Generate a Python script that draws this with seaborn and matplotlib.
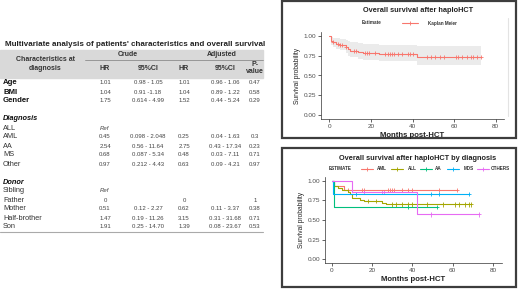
import numpy as np
import pandas as pd
import matplotlib
matplotlib.use("Agg")
import matplotlib.pyplot as plt
import seaborn as sns
from matplotlib.patches import Rectangle
from matplotlib.lines import Line2D

# TABLE DATA
row_labels = ['Age', 'BMI', 'Gender', '', 'Diagnosis', 'ALL', 'AML', 'AA', 'MS', 'Other',
              '', 'Donor', 'Sibling', 'Father', 'Mother', 'Half-brother', 'Son']
crude_hr = ['1.01', '1.04', '1.75', '', '', 'Ref', '0.45', '2.54', '0.68', '0.97',
            '', '', 'Ref', '0', '0.51', '1.47', '1.91']
crude_ci = ['0.98 - 1.05', '0.91 -1.18', '0.614 - 4.99', '', '', '', '0.098 - 2.048',
            '0.56 - 11.64', '0.087 - 5.34', '0.212 - 4.43', '', '', '', '',
            '0.12 - 2.27', '0.19 - 11.26', '0.25 - 14.70']
adj_hr = ['1.01', '1.04', '1.52', '', '', '', '0.25', '2.75', '0.48', '0.63',
          '', '', '', '0', '0.62', '3.15', '1.39']
adj_ci = ['0.96 - 1.06', '0.89 - 1.22', '0.44 - 5.24', '', '', '', '0.04 - 1.63',
          '0.43 - 17.34', '0.03 - 7.11', '0.09 - 4.21', '', '', '', '',
          '0.11 - 3.37', '0.31 - 31.68', '0.08 - 23.67']
p_value = ['0.47', '0.58', '0.29', '', '', '', '0.3', '0.23', '0.71', '0.97',
           '', '', '', '1', '0.38', '0.71', '0.53']
row_kind = ['var', 'var', 'var', '', 'sec', 'lvl', 'lvl', 'lvl', 'lvl', 'lvl',
            '', 'sec', 'lvl', 'lvl', 'lvl', 'lvl', 'lvl']

# OVERALL KM
km_time = [0, 1, 2, 3, 5, 8, 9, 10, 14, 16, 24, 42, 73]
km_surv = [1.0, 0.94, 0.92, 0.90, 0.89, 0.86, 0.83, 0.81, 0.80, 0.79, 0.77, 0.73, 0.73]
km_upper = [1.0, 0.99, 0.98, 0.97, 0.96, 0.95, 0.93, 0.92, 0.91, 0.90, 0.88, 0.87, 0.87]
km_lower = [1.0, 0.88, 0.86, 0.83, 0.82, 0.78, 0.75, 0.73, 0.71, 0.70, 0.68, 0.63, 0.63]
km_censor = [2, 4, 5, 6, 8, 12, 13, 17, 18, 19, 22, 27, 28, 29, 30, 31, 33, 35, 38, 39,
             40, 47, 49, 51, 53, 55, 61, 62, 64, 66, 68, 69, 71, 73]

# KM BY DIAGNOSIS
groups = ['AML', 'ALL', 'AA', 'MDS', 'OTHERS']
aml_time = [0, 1, 6, 62]
aml_surv = [1.0, 0.94, 0.885, 0.885]
aml_censor = [8, 10, 15, 16, 28, 29, 30, 31, 35, 38, 40, 53, 62]
all_time = [0, 1, 3, 5, 8, 9, 10, 14, 16, 25, 27, 69]
all_surv = [1.0, 0.94, 0.91, 0.88, 0.86, 0.83, 0.78, 0.76, 0.74, 0.72, 0.70, 0.70]
all_censor = [18, 22, 30, 32, 35, 38, 40, 47, 55, 61, 63, 66, 68, 69]
aa_time = [0, 0.8, 52]
aa_surv = [1.0, 0.667, 0.667]
aa_censor = [38, 52]
mds_time = [0, 0.5, 68]
mds_surv = [1.0, 0.83, 0.83]
mds_censor = [12, 49, 53, 68]
oth_time = [0, 10, 42, 73]
oth_surv = [1.0, 0.857, 0.571, 0.571]
oth_censor = [16, 25, 26, 49, 73]

palette = {'AML': '#F8766D', 'ALL': '#A3A500', 'AA': '#00BF7D',
           'MDS': '#00B0F6', 'OTHERS': '#E76BF3'}

sns.set_theme(style='ticks')
plt.rcParams['font.family'] = ['Liberation Sans', 'DejaVu Sans']

W, H = 520, 291
fig = plt.figure(figsize=(W / 100, H / 100), dpi=100)
fig.patch.set_facecolor('white')


def step_at(times, surv, t):
    idx = np.searchsorted(times, t, side='right') - 1
    return np.asarray(surv)[idx]


def fig_ax(left, top, right, bottom):
    return fig.add_axes([left / W, 1 - bottom / H, (right - left) / W, (bottom - top) / H])


# table drawn in pixel coordinates
tab = fig.add_axes([0, 0, 1, 1])
tab.set_xlim(0, W)
tab.set_ylim(H, 0)
tab.axis('off')

tab.text(5, 45, "Multivariate analysis of patients' characteristics and overall survival",
         fontsize=5.75, fontweight='bold', va='center', ha='left', color='#222222')
tab.add_patch(Rectangle((0, 50), 263, 28, color='#d9d9d9', zorder=0))
tab.plot([85, 263], [60, 60], color='#8c8c8c', lw=0.6)
hdr = dict(fontsize=5, fontweight='bold', ha='center', va='center', color='#333333')
tab.text(45, 64, 'Characteristics at\ndiagnosis', linespacing=1.5, **hdr)
tab.text(128, 55, 'Crude', **hdr)
tab.text(222, 55, 'Adjusted', **hdr)
col_x = [105, 148, 184, 225, 255]
for x, t in zip(col_x[:4], ['HR', '95%CI', 'HR', '95%CI']):
    tab.text(x, 69, t, **hdr)
tab.text(col_x[4], 68, 'P-\nvalue', linespacing=1.1, **hdr)

row_y0, row_dy = 83, 9
for i, lab in enumerate(row_labels):
    y = row_y0 + i * row_dy
    kind = row_kind[i]
    if kind == 'var':
        tab.text(3, y, lab, fontsize=5.6, fontweight='bold', va='center', color='#111111')
    elif kind == 'sec':
        tab.text(3, y, lab, fontsize=5.3, fontweight='bold', fontstyle='italic',
                 va='center', color='#111111')
    elif kind == 'lvl':
        tab.text(3, y, lab, fontsize=5.3, va='center', color='#333333')
    cols = [crude_hr[i], crude_ci[i], adj_hr[i], adj_ci[i], p_value[i]]
    for x, v in zip(col_x, cols):
        if v:
            tab.text(x, y, v, fontsize=4.3, ha='center', va='center', color='#444444',
                     fontstyle='italic' if v == 'Ref' else 'normal')
tab.plot([0, 263], [232, 232], color='#aaaaaa', lw=0.8)

# panel frames
tab.add_patch(Rectangle((282, 1), 234, 137, fill=False, ec='#3d3d3d', lw=1.6))
tab.add_patch(Rectangle((282, 148), 234, 139, fill=False, ec='#3d3d3d', lw=1.6))
tab.plot([508, 508], [18, 116], color='#e3e3e3', lw=0.8)

tick_kw = dict(labelsize=4.6, labelcolor='#4d4d4d', length=2, width=0.5, pad=1.5)

# top panel: overall survival
ax1 = fig_ax(321, 32, 504, 119)
ax1.fill_between(km_time, km_lower, km_upper, step='post', color='#ebebeb', lw=0)
top_df = pd.DataFrame({'time': km_time, 'surv': km_surv})
sns.lineplot(data=top_df, x='time', y='surv', ax=ax1, color='#F8766D', lw=0.8,
             drawstyle='steps-post', estimator=None, sort=False)
cens_df = pd.DataFrame({'time': km_censor,
                        'surv': step_at(km_time, km_surv, km_censor)})
sns.scatterplot(data=cens_df, x='time', y='surv', ax=ax1, color='#F8766D',
                marker='+', s=10, linewidth=0.6)

# bottom panel: by diagnosis
ax2 = fig_ax(325, 177, 502, 263)
curves = {'AML': (aml_time, aml_surv, aml_censor), 'ALL': (all_time, all_surv, all_censor),
          'AA': (aa_time, aa_surv, aa_censor), 'MDS': (mds_time, mds_surv, mds_censor),
          'OTHERS': (oth_time, oth_surv, oth_censor)}
line_rows, cens_rows = [], []
for g in groups:
    t, s, c = curves[g]
    line_rows.append(pd.DataFrame({'time': t, 'surv': s, 'group': g}))
    cens_rows.append(pd.DataFrame({'time': c, 'surv': step_at(t, s, c), 'group': g}))
lines_df = pd.concat(line_rows, ignore_index=True)
cens2_df = pd.concat(cens_rows, ignore_index=True)
sns.lineplot(data=lines_df, x='time', y='surv', hue='group', units='group', palette=palette,
             ax=ax2, lw=0.8, drawstyle='steps-post', estimator=None, sort=False, legend=False)
sns.scatterplot(data=cens2_df, x='time', y='surv', hue='group', palette=palette, ax=ax2,
                marker='+', s=10, linewidth=0.6, legend=False)

for ax, xl in [(ax1, (-4, 84)), (ax2, (-3.5, 84.5))]:
    ax.set_xlim(*xl)
    ax.set_ylim(-0.05, 1.05)
    ax.set_xticks([0, 20, 40, 60, 80])
    ax.set_yticks([0, 0.25, 0.5, 0.75, 1.0])
    ax.set_yticklabels(['0.00', '0.25', '0.50', '0.75', '1.00'])
    ax.tick_params(**tick_kw)
    ax.set_xlabel('Months post-HCT', fontsize=5.6, fontweight='bold', labelpad=2, color='#222222')
    ax.set_ylabel('Survival probability', fontsize=4.8, labelpad=2, color='#222222')
    ax.set_facecolor('none')
    sns.despine(ax=ax)
    for sp in ['left', 'bottom']:
        ax.spines[sp].set_linewidth(0.5)
        ax.spines[sp].set_color('#333333')

tab.text(418, 11, 'Overall survival after haploHCT', fontsize=5.3, fontweight='bold',
         ha='center', va='center', color='#222222')
tab.text(418, 158, 'Overall survival after haploHCT by diagnosis', fontsize=5.3,
         fontweight='bold', ha='center', va='center', color='#222222')

# legends
leg_kw = dict(fontsize=3.3, fontweight='bold', va='center', color='#333333')
tab.text(372, 23, 'Estimate', ha='center', **leg_kw)
tab.add_line(Line2D([402, 418], [23, 23], color='#F8766D', lw=0.8))
tab.add_line(Line2D([410], [23], color='#F8766D', marker='+', markersize=3.5, mew=0.6))
tab.text(442, 23, 'Kaplan Meier', ha='center', **leg_kw)

tab.text(340, 169, 'ESTIMATE', ha='center', **leg_kw)
leg_pos = {'AML': (367, 382), 'ALL': (397, 412), 'AA': (426, 438),
           'MDS': (453, 469), 'OTHERS': (483, 500)}
for g in groups:
    mx, tx = leg_pos[g]
    tab.add_line(Line2D([mx - 6, mx + 6], [169, 169], color=palette[g], lw=0.8))
    tab.add_line(Line2D([mx], [169], color=palette[g], marker='+', markersize=3.5, mew=0.6))
    tab.text(tx, 169, g, ha='center', **leg_kw)

fig.savefig('out.png', dpi=100)
